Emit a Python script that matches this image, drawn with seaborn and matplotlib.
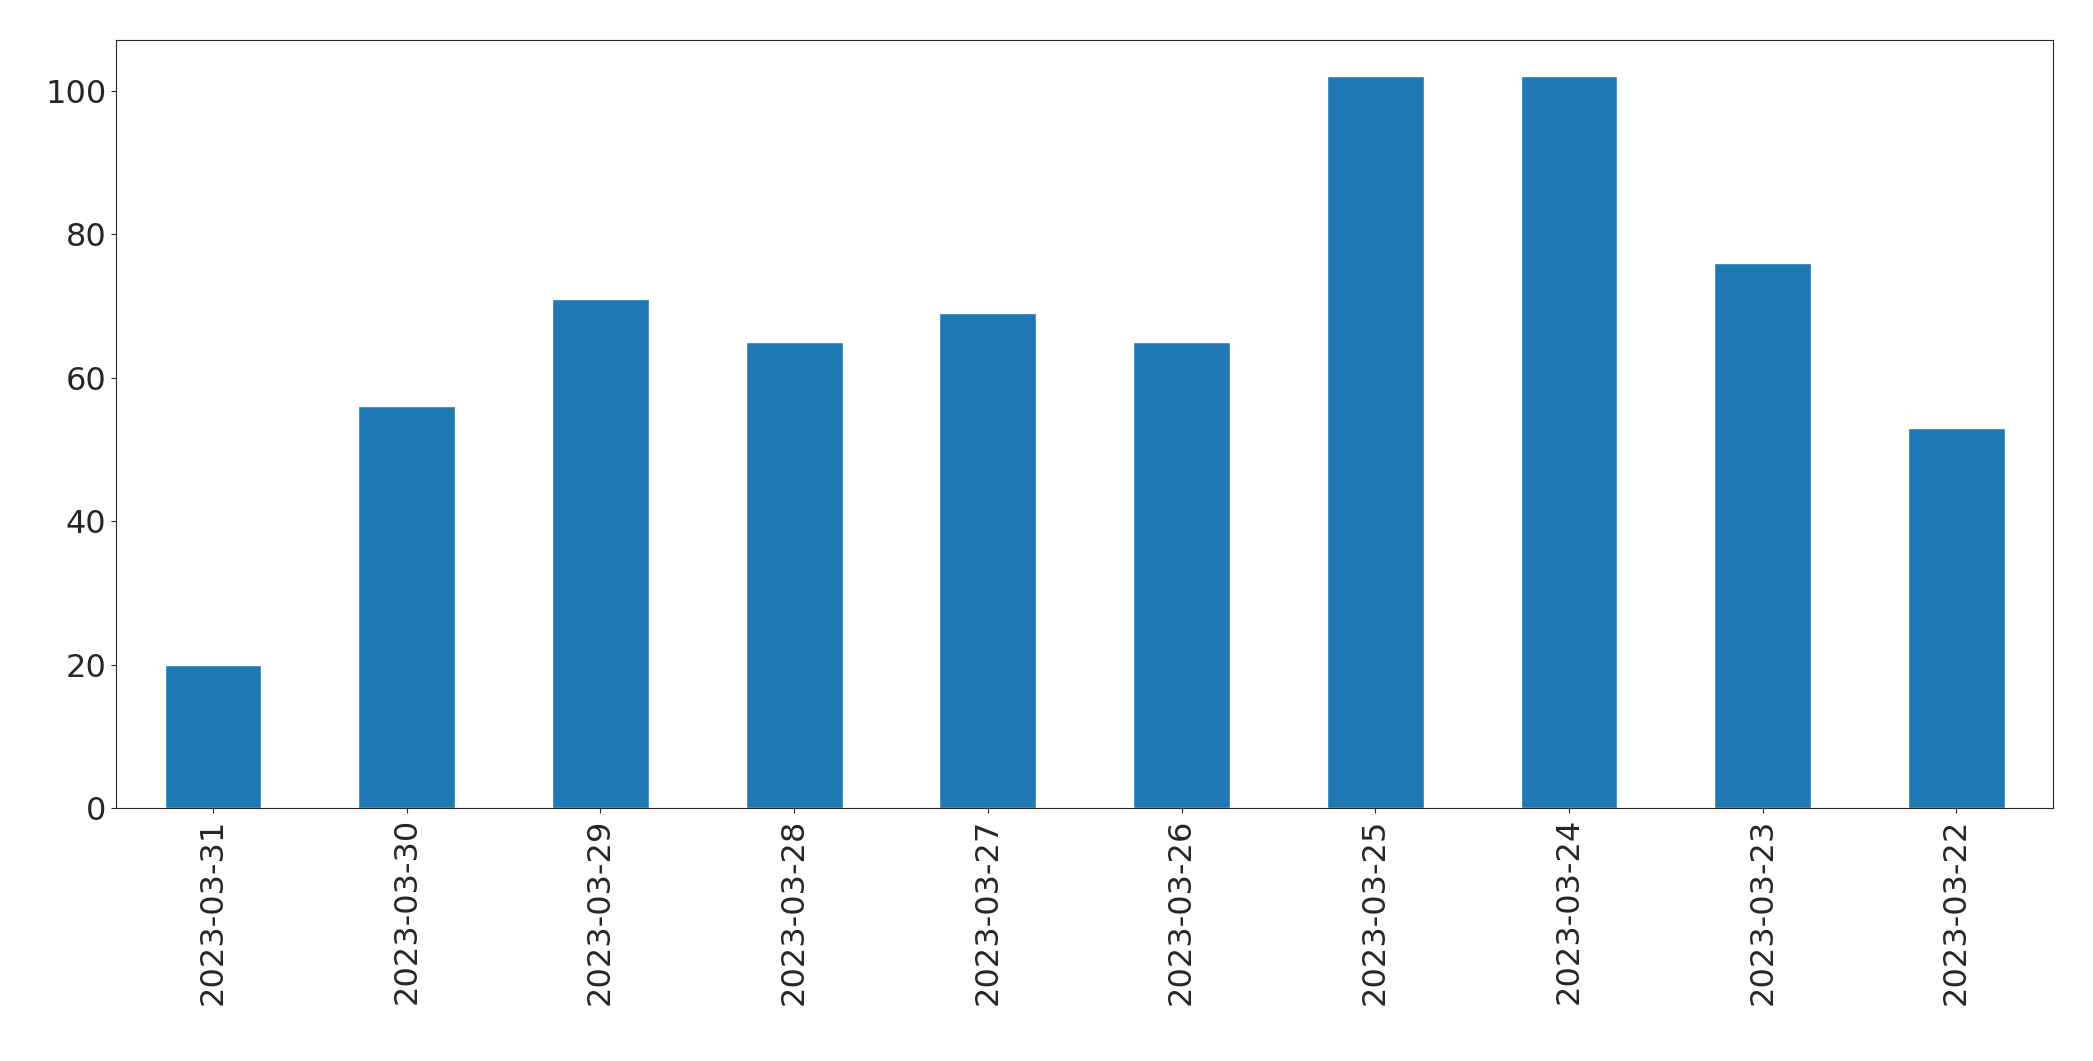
import matplotlib
matplotlib.use("Agg")
import matplotlib.pyplot as plt
import seaborn as sns
import pandas as pd

dates = ["2023-03-31","2023-03-30","2023-03-29","2023-03-28","2023-03-27",
         "2023-03-26","2023-03-25","2023-03-24","2023-03-23","2023-03-22"]
counts = [20, 56, 71, 65, 69, 65, 102, 102, 76, 53]

df = pd.DataFrame({"date": dates, "count": counts})
sns.set_style("ticks")
plt.rcParams['font.family'] = ['DejaVu Sans']
fig = plt.figure(figsize=(20.93, 10.61), dpi=100)
ax = fig.add_axes([0.0555, 0.238, 0.9255, 0.724])
sns.barplot(data=df, x="date", y="count", color="#1f77b4", saturation=1, width=0.5, ax=ax)
ax.set_ylim(0, 107)
ax.set_xlim(-0.5, len(dates) - 0.5)
ax.set_xlabel("")
ax.set_ylabel("")
ax.tick_params(axis="both", labelsize=23)
ax.tick_params(axis="x", rotation=90)
for s in ax.spines.values():
    s.set_visible(True)
    s.set_linewidth(0.8)
fig.savefig("out.png", dpi=100)
